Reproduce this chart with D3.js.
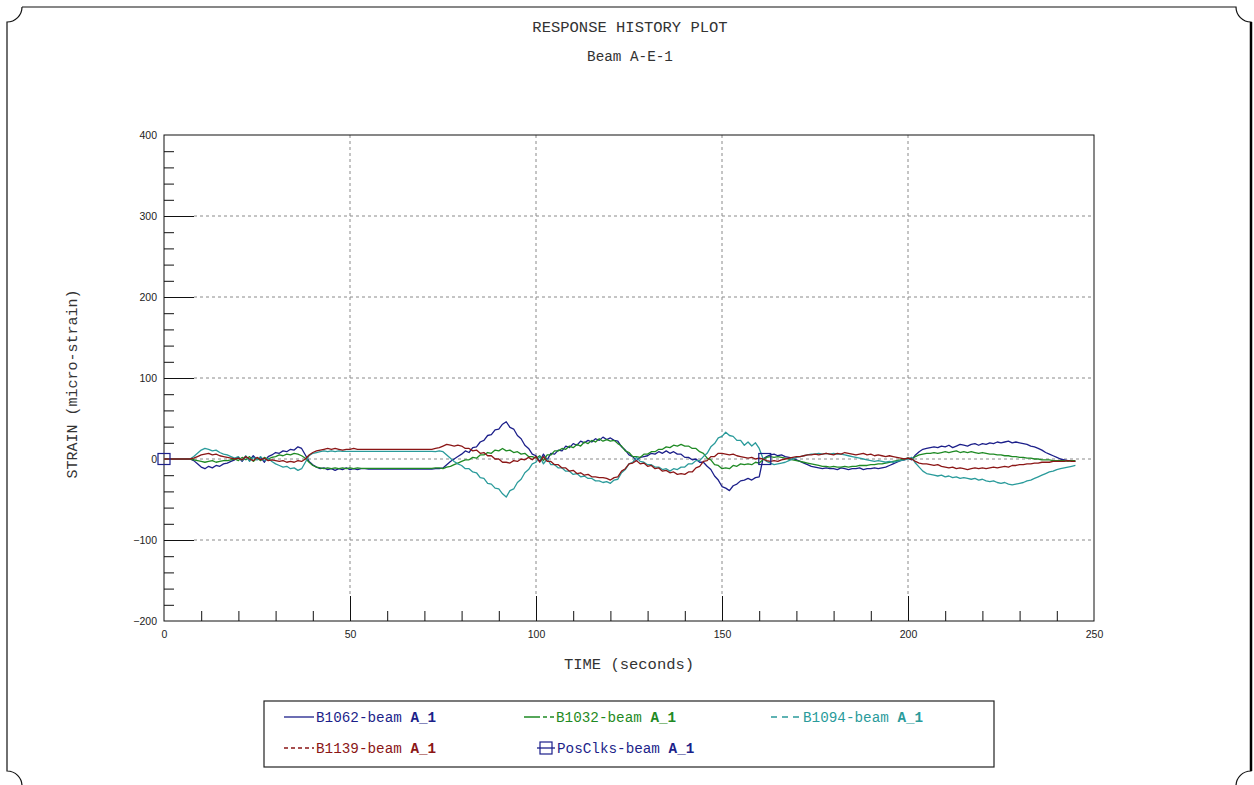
<!DOCTYPE html>
<html>
<head>
<meta charset="utf-8">
<script src="https://cdn.jsdelivr.net/npm/d3@7"></script>
<style>
  html, body { margin: 0; padding: 0; background: #fff; }
  svg { display: block; }
</style>
</head>
<body>
<svg id="chart" width="1254" height="785"></svg>
<script>
// Strain response histories, one sample per second (0 .. 245 s)
const sampleTimes = d3.range(0, 246);

const b1062 = [
  0,0,0,0,0,0,0,0,-2,-6,
  -10,-12,-9,-11,-8,-9,-6,-5,-3,-1,
  2,-3,3,-2,4,-1,2,-4,3,5,
  8,7,10,9,12,11,15,13,5,-3,
  -7,-10,-12,-11,-13,-12,-14,-12,-13,-11,
  -13,-12,-13,-12,-12,-12.5,-12.5,-12.5,-12.5,-12.5,
  -12.5,-12.5,-12.5,-12.5,-12.5,-12.5,-12.5,-12.5,-12.5,-12.5,
  -12.5,-12.5,-12.5,-12,-12,-11,-7,-3,0,3,
  6,10,8,14,15,21,23,29,30,36,
  37,43,46,39,37,29,25,17,13,6,
  4,-3,6,-1,7,6,11,10,16,14,
  19,17,22,20,23,21,25,23,27,24,
  26,23,22,15,11,5,3,-2,2,3,
  4,7,6,9,7,10,7,9,6,6,
  2,2,-1,0,-4,-4,-9,-13,-21,-26,
  -34,-36,-39,-33,-31,-27,-26,-24,-26,-23,
  -22,0,3,5,6,4,5,3,2,1,
  -1,-3,-5,-7,-9,-10,-11,-12,-11,-12,
  -12,-13,-11,-12,-13,-12,-12,-11,-13,-12,
  -12,-11,-12,-11,-10,-8,-6,-4,-2,-1,
  1,-1,5,9,12,13,14,15,14,16,
  15,17,14,16,18,17,16,18,19,17,
  19,18,20,19,21,20,21,22,20,21,
  20,19,18,16,15,13,11,8,6,4,
  2,0,-1,-2,-2,-3
];

const b1032 = [
  0,0,0,0,0,0,0,0,-1,-2,
  -3,-4,-3,-2,-4,-3,-2,-2,-1,0,
  -2,2,-1,3,-3,1,-2,2,0,2,
  3,5,4,6,5,7,6,4,1,-4,
  -8,-10,-11,-12,-11,-12,-11,-12,-11,-12,
  -11,-12,-11,-11.5,-11.5,-11.5,-11.5,-11.5,-11.5,-11.5,
  -11.5,-11.5,-11.5,-11.5,-11.5,-11.5,-11.5,-11.5,-11.5,-11.5,
  -11.5,-11.5,-11.5,-11,-11,-12,-10,-9,-7,-5,
  -3,-1,-1,2,1,5,5,8,7,11,
  10,13,10,11,8,9,6,7,3,3,
  1,4,-2,5,5,10,10,13,12,16,
  14,18,16,21,19,23,21,25,22,24,
  22,23,19,16,10,8,3,3,2,6,
  6,9,9,12,12,15,14,17,16,18,
  16,16,13,13,9,7,1,-1,-7,-8,
  -12,-11,-12,-8,-9,-6,-7,-6,-7,-4,
  -5,-1,2,3,2,3,2,1,0,-1,
  -2,-3,-4,-5,-6,-7,-8,-9,-9,-10,
  -9,-10,-10,-9,-10,-9,-9,-8,-8,-8,
  -7,-7,-6,-6,-5,-4,-3,-2,-1,0,
  1,0,3,5,6,7,7,8,7,8,
  9,8,9,10,8,9,8,9,8,7,
  8,7,6,6,5,5,4,4,3,3,
  2,2,1,1,0,0,-1,-1,-1,-2,
  -2,-2,-2,-3,-2,-2
];

const b1094 = [
  0,0,0,0,0,0,0,0,3,7,
  11,13,12,10,11,8,6,5,3,1,
  3,-2,4,-3,2,-1,3,-2,1,-3,
  -6,-8,-10,-9,-12,-11,-14,-12,-4,4,
  7,8,9,10,9,10,9,10,9.5,9.5,
  9.5,9.5,9.5,9.5,9.5,9.5,9.5,9.5,9.5,9.5,
  9.5,9.5,9.5,9.5,9.5,9.5,9.5,9.5,9.5,9.5,
  9.5,9.5,9.5,9,10,9,5,1,-3,-6,
  -8,-12,-12,-16,-17,-23,-24,-30,-31,-36,
  -37,-43,-47,-39,-37,-29,-25,-17,-13,-6,
  -4,3,-6,0,-7,-7,-11,-11,-15,-15,
  -19,-18,-22,-21,-24,-24,-27,-27,-29,-28,
  -30,-26,-25,-17,-13,-6,-4,2,-3,-4,
  -7,-7,-10,-10,-13,-12,-15,-12,-13,-10,
  -10,-6,-6,-2,-2,3,7,15,19,26,
  28,33,29,28,23,23,17,21,16,20,
  13,1,-3,-5,-7,-6,-5,-4,-2,0,
  2,3,4,5,6,6,7,6,7,6,
  7,6,6,5,4,3,2,1,0,-1,
  -2,-3,-2,-3,-4,-3,-4,-3,-2,-1,
  0,2,-5,-10,-15,-18,-19,-20,-21,-20,
  -22,-21,-23,-22,-24,-23,-24,-25,-24,-26,
  -25,-27,-28,-27,-29,-30,-29,-31,-32,-31,
  -30,-29,-27,-26,-24,-22,-20,-18,-16,-15,
  -13,-12,-11,-10,-9,-8
];

const b1139 = [
  0,0,0,0,0,0,0,0,1,3,
  5,6,7,5,6,4,3,2,1,0,
  1,-1,3,0,-2,2,-1,1,-2,-1,
  -2,-3,-2,-4,-3,-4,-2,-3,0,5,
  8,10,11,12,13,12,13,12,11,12,
  12,13,12,12,12,12,12,12,12,12,
  12,12,12,12,12,12,12,12,12,12,
  12,12,12,13,14,16,18,17,16,17,
  16,13,13,10,11,7,8,4,4,0,
  0,-4,-4,-5,-2,-3,0,-1,2,-1,
  3,-4,3,-3,-3,-7,-7,-11,-11,-15,
  -14,-18,-17,-20,-19,-22,-22,-23,-23,-24,
  -26,-23,-22,-15,-12,-6,-5,-2,-6,-5,
  -9,-8,-12,-11,-15,-14,-17,-16,-19,-18,
  -19,-16,-16,-11,-9,-3,-2,3,3,7,
  7,6,5,6,4,3,2,1,2,0,
  1,0,-2,-3,-2,-3,-1,0,1,2,
  3,3,4,5,5,6,5,6,7,6,
  5,7,6,8,7,6,5,6,7,5,
  6,4,5,4,3,4,3,2,1,0,
  1,0,-3,-5,-6,-6,-7,-8,-7,-9,
  -10,-11,-10,-12,-11,-12,-13,-12,-11,-12,
  -11,-12,-11,-10,-11,-10,-9,-10,-8,-8,
  -7,-7,-6,-6,-5,-5,-4,-4,-4,-3,
  -3,-3,-3,-2,-3,-3
];

// Position clicks (marker events)
const posClkTimes = [0, 161.5];
const posClkValues = [0, 0];

const seriesNames = ["B1062-beam ", "B1032-beam ", "B1094-beam ", "B1139-beam "];
const seriesColors = ["#1c1f8a", "#1f8a24", "#2a9b9b", "#8b1616"];
const seriesValues = [b1062, b1032, b1094, b1139];
const posClkName = "PosClks-beam ";
const posClkColor = "#1c1f8a";
const channelSuffix = "A_1";

const xTicksMajor = [0, 50, 100, 150, 200, 250];
const yTicksMajor = [-200, -100, 0, 100, 200, 300, 400];

const svg = d3.select("#chart");
const mono = "'Courier New', 'Liberation Mono', monospace";
const sans = "'Liberation Sans', Arial, sans-serif";

// Outer page frame with notched corners
(function drawFrame() {
  const x0 = 7, y0 = 7, x1 = 1251, y1 = 786, r = 15;
  const p = d3.path();
  p.moveTo(x0 + r, y0);
  p.lineTo(x1 - r, y0);
  p.arc(x1, y0, r, Math.PI, Math.PI / 2, true);
  p.lineTo(x1, y1 - r);
  p.arc(x1, y1, r, -Math.PI / 2, Math.PI, true);
  p.lineTo(x0 + r, y1);
  p.arc(x0, y1, r, 0, -Math.PI / 2, true);
  p.lineTo(x0, y0 + r);
  p.arc(x0, y0, r, Math.PI / 2, 0, true);
  svg.append("path").attr("d", p.toString())
    .attr("fill", "none").attr("stroke", "#111").attr("stroke-width", 1.2);
  svg.append("line").attr("x1", x1).attr("x2", x1).attr("y1", y0 + r).attr("y2", y1 - r)
    .attr("stroke", "#000").attr("stroke-width", 2.5);
})();

// Titles
svg.append("text").attr("x", 630).attr("y", 32).attr("text-anchor", "middle")
  .attr("font-family", mono).attr("font-size", 15.5).attr("fill", "#333")
  .text("RESPONSE HISTORY PLOT");
svg.append("text").attr("x", 630).attr("y", 61).attr("text-anchor", "middle")
  .attr("font-family", mono).attr("font-size", 14.3).attr("fill", "#333")
  .text("Beam A-E-1");

// Plot area
const plotLeft = 164, plotRight = 1094, plotTop = 135, plotBottom = 621;
const x = d3.scaleLinear().domain([0, 250]).range([plotLeft, plotRight]);
const y = d3.scaleLinear().domain([-200, 400]).range([plotBottom, plotTop]);

const grid = svg.append("g");
// horizontal dashed grid lines starting after the long major ticks
yTicksMajor.filter(v => v > -200 && v < 400).forEach(v => {
  grid.append("line").attr("x1", plotLeft + 30).attr("x2", plotRight)
    .attr("y1", y(v)).attr("y2", y(v))
    .attr("stroke", "#8a8a8a").attr("stroke-width", 1).attr("stroke-dasharray", "3,3");
});
xTicksMajor.filter(v => v > 0 && v < 250).forEach(v => {
  grid.append("line").attr("x1", x(v)).attr("x2", x(v))
    .attr("y1", plotTop).attr("y2", plotBottom - 25)
    .attr("stroke", "#8a8a8a").attr("stroke-width", 1).attr("stroke-dasharray", "3,3");
});

// Frame of plot
svg.append("rect").attr("x", plotLeft).attr("y", plotTop)
  .attr("width", plotRight - plotLeft).attr("height", plotBottom - plotTop)
  .attr("fill", "none").attr("stroke", "#111").attr("stroke-width", 1);

// Y axis: minor ticks every 20, long ticks every 100
const yAxis = d3.axisRight(y).tickValues(d3.range(-180, 400, 20)).tickSize(10).tickFormat("");
const gy = svg.append("g").attr("transform", `translate(${plotLeft},0)`).call(yAxis);
gy.select(".domain").remove();
gy.selectAll(".tick line").attr("stroke", "#111")
  .attr("x2", d => (d % 100 === 0 ? 30 : 10));

const yLabels = d3.axisLeft(y).tickValues(yTicksMajor).tickSize(0).tickPadding(7).tickFormat(d3.format("d"));
const gyl = svg.append("g").attr("transform", `translate(${plotLeft},0)`).call(yLabels);
gyl.select(".domain").remove();
gyl.selectAll("text").attr("font-family", sans).attr("font-size", 10.5).attr("fill", "#222");

// X axis: minor ticks every 10, long ticks every 50
const xAxis = d3.axisTop(x).tickValues(d3.range(10, 250, 10)).tickSize(10).tickFormat("");
const gx = svg.append("g").attr("transform", `translate(0,${plotBottom})`).call(xAxis);
gx.select(".domain").remove();
gx.selectAll(".tick line").attr("stroke", "#111")
  .attr("y2", d => (d % 50 === 0 ? -25 : -10));

const xLabels = d3.axisBottom(x).tickValues(xTicksMajor).tickSize(0).tickPadding(10).tickFormat(d3.format("d"));
const gxl = svg.append("g").attr("transform", `translate(0,${plotBottom})`).call(xLabels);
gxl.select(".domain").remove();
gxl.selectAll("text").attr("font-family", sans).attr("font-size", 10.5).attr("fill", "#222");

// Axis titles
svg.append("text").attr("x", 629).attr("y", 669).attr("text-anchor", "middle")
  .attr("font-family", mono).attr("font-size", 15.5).attr("fill", "#333")
  .text("TIME (seconds)");
svg.append("text").attr("transform", "translate(77,384) rotate(-90)").attr("text-anchor", "middle")
  .attr("font-family", mono).attr("font-size", 15).attr("fill", "#333")
  .text("STRAIN (micro-strain)");

// Data lines
const line = d3.line().x((d, i) => x(sampleTimes[i])).y(d => y(d));
const plot = svg.append("g");
seriesValues.forEach((vals, k) => {
  plot.append("path").datum(vals).attr("d", line)
    .attr("fill", "none").attr("stroke", seriesColors[k])
    .attr("stroke-width", 1.3).attr("stroke-linejoin", "round");
});

// Position click markers
plot.selectAll("rect.clk").data(posClkTimes).enter().append("rect")
  .attr("class", "clk")
  .attr("x", (d) => x(d) - 6).attr("y", (d, i) => y(posClkValues[i]) - 5.5)
  .attr("width", 12).attr("height", 11)
  .attr("fill", "none").attr("stroke", posClkColor).attr("stroke-width", 1.2);

// Legend
const lg = svg.append("g");
lg.append("rect").attr("x", 264).attr("y", 701).attr("width", 730).attr("height", 66)
  .attr("fill", "#fff").attr("stroke", "#222").attr("stroke-width", 1.2);

const legendItems = [
  { name: seriesNames[0], color: seriesColors[0], x: 284, y: 717, dash: null },
  { name: seriesNames[1], color: seriesColors[1], x: 524, y: 717, dash: "16,3,4,3" },
  { name: seriesNames[2], color: seriesColors[2], x: 771, y: 717, dash: "6,5" },
  { name: seriesNames[3], color: seriesColors[3], x: 284, y: 748, dash: "4,3" },
  { name: posClkName, color: posClkColor, x: 537, y: 748, dash: null, marker: true }
];
legendItems.forEach(it => {
  const w = it.marker ? 18 : 30;
  const l = lg.append("line").attr("x1", it.x).attr("x2", it.x + w)
    .attr("y1", it.y).attr("y2", it.y)
    .attr("stroke", it.color).attr("stroke-width", 1.3);
  if (it.dash) l.attr("stroke-dasharray", it.dash);
  if (it.marker) {
    lg.append("rect").attr("x", it.x + 3).attr("y", it.y - 6).attr("width", 12).attr("height", 12)
      .attr("fill", "none").attr("stroke", it.color).attr("stroke-width", 1.2);
  }
  const t = lg.append("text").attr("x", it.x + w + 2).attr("y", it.y + 5)
    .attr("font-family", mono).attr("font-size", 14.3).attr("fill", it.color);
  t.append("tspan").text(it.name);
  t.append("tspan").attr("font-weight", "bold").text(channelSuffix);
});
</script>
</body>
</html>
